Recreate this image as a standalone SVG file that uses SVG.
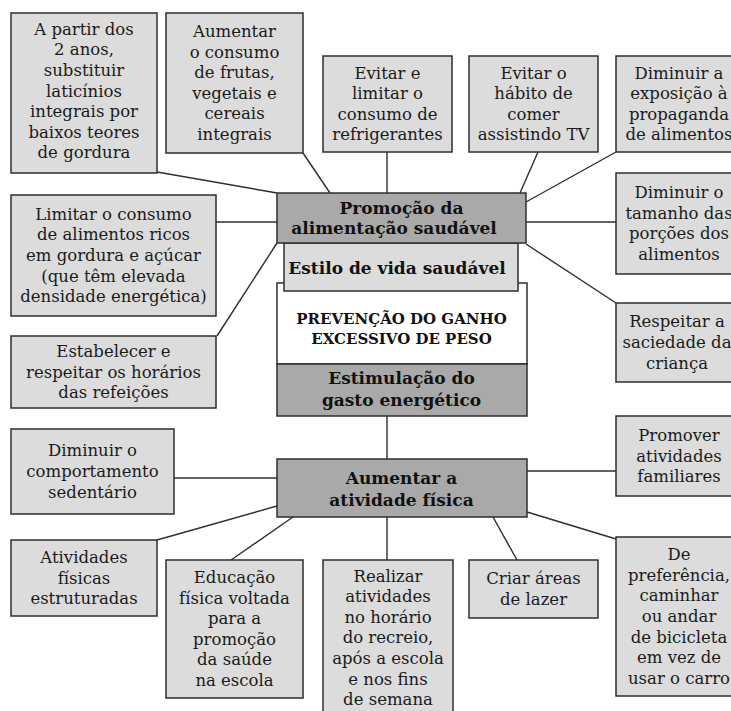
<svg xmlns="http://www.w3.org/2000/svg" width="731" height="711" viewBox="0 0 731 711">
<style>
.lb{fill:#dcdcdc;stroke:#2e2e2e;stroke-width:1.5}
.db{fill:#a9a9a9;stroke:#2e2e2e;stroke-width:1.5}
.wb{fill:#ffffff;stroke:#2e2e2e;stroke-width:1.5}
.t{font-family:"DejaVu Serif","Liberation Serif",serif;font-size:16.5px;fill:#1a1a1a;text-anchor:middle}
.b{font-family:"DejaVu Serif","Liberation Serif",serif;font-size:17px;font-weight:bold;fill:#111;text-anchor:middle}
.bc{font-family:"DejaVu Serif","Liberation Serif",serif;font-size:15px;font-weight:bold;fill:#111;text-anchor:middle}
.c line{stroke:#2e2e2e;stroke-width:1.4}
</style>
<rect width="731" height="711" fill="#ffffff"/>
<g class="c" id="connectors">
<line x1="157" y1="172" x2="277" y2="193"/>
<line x1="303" y1="153" x2="330" y2="193"/>
<line x1="387" y1="152" x2="387" y2="193"/>
<line x1="538" y1="152" x2="520" y2="193"/>
<line x1="616" y1="152" x2="526" y2="202"/>
<line x1="216" y1="222" x2="277" y2="222"/>
<line x1="217" y1="336" x2="277" y2="243"/>
<line x1="526" y1="222" x2="616" y2="222"/>
<line x1="526" y1="244" x2="616" y2="303"/>
<line x1="387" y1="416" x2="387" y2="459"/>
<line x1="174" y1="478" x2="277" y2="478"/>
<line x1="527" y1="471" x2="616" y2="471"/>
<line x1="157" y1="540" x2="277" y2="506"/>
<line x1="231" y1="560" x2="293" y2="517"/>
<line x1="387" y1="517" x2="387" y2="560"/>
<line x1="517" y1="560" x2="493" y2="517"/>
<line x1="527" y1="512" x2="616" y2="539"/>
</g>
<g id="center-white"><rect class="wb" x="277" y="283" width="250" height="81"/>
<text class="bc" x="401.5" y="323.5">PREVENÇÃO DO GANHO</text>
<text class="bc" x="401.5" y="343.5">EXCESSIVO DE PESO</text></g>
<g id="estilo"><rect class="lb" x="284" y="243" width="234" height="48"/>
<text class="b" x="397" y="273.5">Estilo de vida saudável</text></g>
<g id="promocao"><rect class="db" x="277" y="193" width="249" height="50"/>
<text class="b" x="401.5" y="213.5">Promoção da</text>
<text class="b" x="394" y="233.5">alimentação saudável</text></g>
<g id="estimulacao"><rect class="db" x="277" y="364" width="250" height="52"/>
<text class="b" x="401.5" y="383.5">Estimulação do</text>
<text class="b" x="401.5" y="405.5">gasto energético</text></g>
<g id="aumentar"><rect class="db" x="277" y="459" width="250" height="58"/>
<text class="b" x="401.5" y="483.5">Aumentar a</text>
<text class="b" x="401.5" y="505.5">atividade física</text></g>
<g id="b1"><rect class="lb" x="11" y="13" width="146" height="160"/>
<text class="t" x="84" y="34.7">A partir dos</text><text class="t" x="84" y="55.3">2 anos,</text><text class="t" x="84" y="75.9">substituir</text><text class="t" x="84" y="96.5">laticínios</text><text class="t" x="84" y="117.1">integrais por</text><text class="t" x="84" y="137.7">baixos teores</text><text class="t" x="84" y="158.3">de gordura</text></g>
<g id="b2"><rect class="lb" x="166" y="13" width="137" height="140"/>
<text class="t" x="234.5" y="37">Aumentar</text><text class="t" x="234.5" y="57.6">o consumo</text><text class="t" x="234.5" y="78.2">de frutas,</text><text class="t" x="234.5" y="98.8">vegetais e</text><text class="t" x="234.5" y="119.4">cereais</text><text class="t" x="234.5" y="140">integrais</text></g>
<g id="b3"><rect class="lb" x="323" y="56" width="129" height="96"/>
<text class="t" x="387.5" y="78.6">Evitar e</text><text class="t" x="387.5" y="99.2">limitar o</text><text class="t" x="387.5" y="119.8">consumo de</text><text class="t" x="387.5" y="140.4">refrigerantes</text></g>
<g id="b4"><rect class="lb" x="469" y="56" width="129" height="96"/>
<text class="t" x="533.5" y="78.6">Evitar o</text><text class="t" x="533.5" y="99.2">hábito de</text><text class="t" x="533.5" y="119.8">comer</text><text class="t" x="533.5" y="140.4">assistindo TV</text></g>
<g id="b5"><rect class="lb" x="616" y="56" width="129" height="96"/>
<text class="t" x="679" y="78.6">Diminuir a</text><text class="t" x="679" y="99.2">exposição à</text><text class="t" x="679" y="119.8">propaganda</text><text class="t" x="679" y="140.4">de alimentos</text></g>
<g id="b6"><rect class="lb" x="11" y="195" width="205" height="121"/>
<text class="t" x="113.5" y="219.8">Limitar o consumo</text><text class="t" x="113.5" y="240.4">de alimentos ricos</text><text class="t" x="113.5" y="261">em gordura e açúcar</text><text class="t" x="113.5" y="281.6">(que têm elevada</text><text class="t" x="113.5" y="302.2">densidade energética)</text></g>
<g id="b7"><rect class="lb" x="11" y="336" width="205" height="72"/>
<text class="t" x="113.5" y="356.9">Estabelecer e</text><text class="t" x="113.5" y="377.5">respeitar os horários</text><text class="t" x="113.5" y="398.1">das refeições</text></g>
<g id="b8"><rect class="lb" x="616" y="173" width="129" height="101"/>
<text class="t" x="679" y="198.1">Diminuir o</text><text class="t" x="679" y="218.7">tamanho das</text><text class="t" x="679" y="239.3">porções dos</text><text class="t" x="679" y="259.9">alimentos</text></g>
<g id="b9"><rect class="lb" x="616" y="303" width="129" height="79"/>
<text class="t" x="677" y="327.4">Respeitar a</text><text class="t" x="677" y="348">saciedade da</text><text class="t" x="677" y="368.6">criança</text></g>
<g id="b10"><rect class="lb" x="11" y="429" width="163" height="85"/>
<text class="t" x="92.5" y="456.4">Diminuir o</text><text class="t" x="92.5" y="477">comportamento</text><text class="t" x="92.5" y="497.6">sedentário</text></g>
<g id="b11"><rect class="lb" x="616" y="416" width="129" height="80"/>
<text class="t" x="679" y="440.9">Promover</text><text class="t" x="679" y="461.5">atividades</text><text class="t" x="679" y="482.1">familiares</text></g>
<g id="b12"><rect class="lb" x="11" y="540" width="146" height="76"/>
<text class="t" x="84" y="562.9">Atividades</text><text class="t" x="84" y="583.5">físicas</text><text class="t" x="84" y="604.1">estruturadas</text></g>
<g id="b13"><rect class="lb" x="166" y="560" width="137" height="138"/>
<text class="t" x="234.5" y="583">Educação</text><text class="t" x="234.5" y="603.6">física voltada</text><text class="t" x="234.5" y="624.2">para a</text><text class="t" x="234.5" y="644.8">promoção</text><text class="t" x="234.5" y="665.4">da saúde</text><text class="t" x="234.5" y="686">na escola</text></g>
<g id="b14"><rect class="lb" x="323" y="560" width="130" height="170"/>
<text class="t" x="388" y="581.5">Realizar</text><text class="t" x="388" y="602.1">atividades</text><text class="t" x="388" y="622.7">no horário</text><text class="t" x="388" y="643.3">do recreio,</text><text class="t" x="388" y="663.9">após a escola</text><text class="t" x="388" y="684.5">e nos fins</text><text class="t" x="388" y="705.1">de semana</text></g>
<g id="b15"><rect class="lb" x="469" y="560" width="129" height="58"/>
<text class="t" x="533.5" y="584.2">Criar áreas</text><text class="t" x="533.5" y="604.8">de lazer</text></g>
<g id="b16"><rect class="lb" x="616" y="537" width="129" height="159"/>
<text class="t" x="679" y="560.2">De</text><text class="t" x="679" y="580.8">preferência,</text><text class="t" x="679" y="601.4">caminhar</text><text class="t" x="679" y="622">ou andar</text><text class="t" x="679" y="642.6">de bicicleta</text><text class="t" x="679" y="663.2">em vez de</text><text class="t" x="679" y="683.8">usar o carro</text></g>
</svg>
